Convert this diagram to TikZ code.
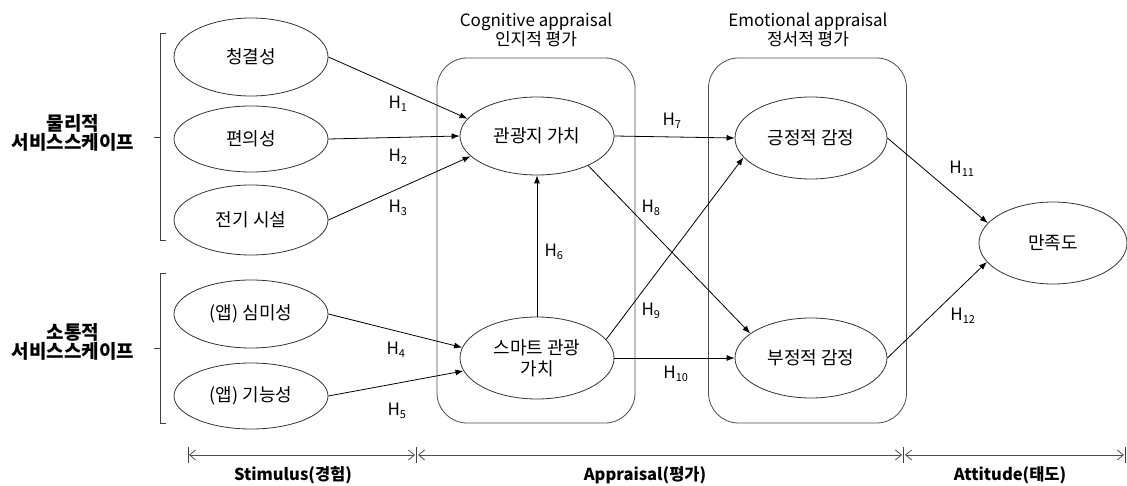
\documentclass[tikz,border=0pt]{standalone}
\usepackage{fontspec}
\setmainfont{Noto Sans CJK KR}
\usetikzlibrary{shapes.geometric,arrows.meta}
\tikzset{
  construct/.style={draw=black!80, ellipse, line width=0.8pt, inner sep=0pt, minimum width=154pt, minimum height=78pt, font=\fontsize{18}{21}\selectfont, align=center},
  apbox/.style={draw=black!70, line width=0.8pt, rounded corners=30pt, minimum width=198pt, minimum height=365pt},
  path/.style={line width=0.8pt, -{Latex[length=8pt,width=6pt]}},
  hlab/.style={font=\fontsize{17}{20}\selectfont, inner sep=1pt},
  ttl/.style={font=\fontsize{17}{20}\selectfont, align=center},
  grp/.style={font=\bfseries\fontsize{19}{22}\selectfont, align=center},
  dim/.style={draw=black!70, line width=0.8pt, {Straight Barb[length=6pt,width=10pt]}-{Straight Barb[length=6pt,width=10pt]}},
  brk/.style={draw=black!75, line width=0.8pt},
  foot/.style={font=\bfseries\fontsize{16.5}{19}\selectfont}
}
\newcommand{\hsub}[1]{H\textsubscript{\fontsize{11}{12}\selectfont #1}}
\begin{document}
\begin{tikzpicture}[x=1pt,y=-1pt]
\useasboundingbox (0,0) rectangle (1127,486);
% appraisal boxes
\node[apbox] (cog) at (536,240.5) {};
\node[apbox] (emo) at (807.5,240.5) {};
\node[ttl] (cogt) at (536,30) {Cognitive appraisal\\[-1pt]인지적 평가};
\node[ttl] (emot) at (808,30) {Emotional appraisal\\[-1pt]정서적 평가};
% stimulus constructs
\node[construct] (c1) at (251,57) {청결성};
\node[construct, minimum height=66pt] (c2) at (251,139) {편의성};
\node[construct, minimum height=70pt] (c3) at (251,220) {전기 시설};
\node[construct, minimum height=68pt] (c4) at (251,314) {(앱) 심미성};
\node[construct, minimum height=66pt] (c5) at (251,396) {(앱) 기능성};
% appraisal constructs
\node[construct] (v1) at (537,136) {관광지 가치};
\node[construct, minimum height=82pt] (v2) at (537,358) {스마트 관광\\[0pt]가치};
\node[construct, minimum width=152pt, minimum height=82pt] (e1) at (811,138) {긍정적 감정};
\node[construct, minimum width=152pt, minimum height=80pt] (e2) at (811,358) {부정적 감정};
\node[construct, minimum width=148pt, minimum height=82pt] (s) at (1053,243) {만족도};
% group brackets and labels
\coordinate (b1t) at (166,33); \coordinate (b1b) at (166,240);
\coordinate (b2t) at (166,273); \coordinate (b2b) at (166,423);
\draw[brk] (b1t) -- (160,33) -- (160,240) -- (b1b);
\draw[brk] (160,137) -- (154,137);
\draw[brk] (b2t) -- (160,273) -- (160,423) -- (b2b);
\draw[brk] (160,348) -- (154,348);
\node[grp] (g1) at (73,133) {물리적\\[-3pt]서비스스케이프};
\node[grp] (g2) at (73,342) {소통적\\[-3pt]서비스스케이프};
% paths
\draw[path] (c1.east) -- (v1.166);
\draw[path] (c2.east) -- (v1.west);
\draw[path] (c3.east) -- (v1.197);
\draw[path] (c4.east) -- (v2.172);
\draw[path] (c5.east) -- (v2.190);
\draw[path] (v2.north) -- (v1.south);
\draw[path] (v1.east) -- (e1.west);
\draw[path] (v1.330) -- (e2.158);
\draw[path] (v2.15) -- (e1.196);
\draw[path] (v2.east) -- (e2.west);
\draw[path] (e1.east) -- (s.163);
\draw[path] (e2.east) -- (s.196);
% path labels
\node[hlab] (h1) at (398,104) {\hsub{1}};
\node[hlab] (h2) at (398,157) {\hsub{2}};
\node[hlab] (h3) at (398,208) {\hsub{3}};
\node[hlab] (h4) at (396,350) {\hsub{4}};
\node[hlab] (h5) at (397,411) {\hsub{5}};
\node[hlab] (h6) at (554,252) {\hsub{6}};
\node[hlab] (h7) at (672,121) {\hsub{7}};
\node[hlab] (h8) at (651,208) {\hsub{8}};
\node[hlab] (h9) at (651,311) {\hsub{9}};
\node[hlab] (h10) at (676,374) {\hsub{10}};
\node[hlab] (h11) at (962,169) {\hsub{11}};
\node[hlab] (h12) at (963,316) {\hsub{12}};
% bottom dimension lines
\coordinate (d0) at (188,455); \coordinate (d1) at (416,455);
\coordinate (d2) at (903,455); \coordinate (d3) at (1125,455);
\draw[dim] ([xshift=1pt]d0) -- ([xshift=-1pt]d1);
\draw[dim] ([xshift=2pt]d1) -- ([xshift=-1pt]d2);
\draw[dim] ([xshift=2pt]d2) -- ([xshift=-1pt]d3);
\foreach \d in {d0,d1,d2,d3} \draw[brk] ([yshift=-8pt]\d) -- ([yshift=8pt]\d);
\node[foot] (f1) at (293,475) {Stimulus(경험)};
\node[foot] (f2) at (645,475) {Appraisal(평가)};
\node[foot] (f3) at (1010,475) {Attitude(태도)};
\end{tikzpicture}
\end{document}
